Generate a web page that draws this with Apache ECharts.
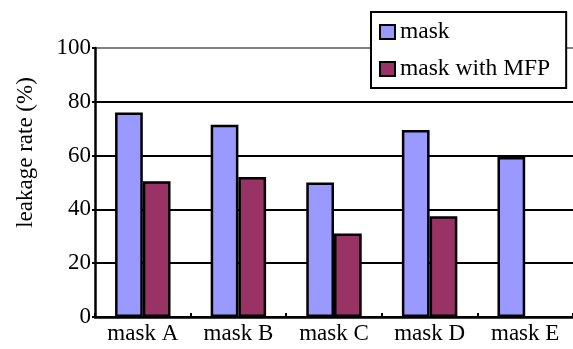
<!DOCTYPE html>
<html>
<head>
<meta charset="utf-8">
<script src="https://cdn.jsdelivr.net/npm/echarts@6/dist/echarts.min.js"></script>
<style>
  html, body { margin: 0; padding: 0; background: #fff; }
  #main { width: 573px; height: 349px; }
</style>
</head>
<body>
<div id="main"></div>
<script>
const categories = ['mask A', 'mask B', 'mask C', 'mask D', 'mask E'];
const maskValues = [76, 71.5, 50, 69.5, 59.5];
const mfpValues = [50.5, 52, 31, 37.5, null];
const seriesNames = ['mask', 'mask with MFP'];

const chart = echarts.init(document.getElementById('main'));
const font = "'Liberation Serif', 'Times New Roman', serif";

var option = {
  backgroundColor: '#ffffff',
  animation: false,
  textStyle: { fontFamily: font },
  grid: { left: 95, top: 48, right: -2, bottom: 32 },
  legend: {
    orient: 'vertical',
    left: 371,
    top: 12,
    padding: [8, 16, 7, 8],
    itemWidth: 15,
    itemHeight: 14,
    itemGap: 13,
    backgroundColor: '#ffffff',
    borderColor: '#000',
    borderWidth: 2,
    textStyle: { fontFamily: font, fontSize: 23.5, color: '#000' },
    data: [
      { name: seriesNames[0], icon: 'rect' },
      { name: seriesNames[1], icon: 'rect' }
    ]
  },
  xAxis: {
    type: 'category',
    data: categories,
    axisLine: { lineStyle: { color: '#000', width: 2.5 } },
    axisTick: { show: true, inside: true, length: 4, lineStyle: { color: '#000', width: 2 } },
    axisLabel: { color: '#000', fontFamily: font, fontSize: 23, margin: 5 }
  },
  yAxis: {
    type: 'value',
    min: 0,
    max: 100,
    interval: 20,
    name: 'leakage rate (%)',
    nameLocation: 'middle',
    nameGap: 58,
    nameTextStyle: { color: '#000', fontFamily: font, fontSize: 23, padding: [0, 0, 0, 60] },
    axisLine: { show: true, lineStyle: { color: '#000', width: 2.5 } },
    axisTick: { show: true, length: 3, lineStyle: { color: '#000', width: 2 } },
    axisLabel: { color: '#000', fontFamily: font, fontSize: 23, margin: 4 },
    splitLine: {
      show: true,
      lineStyle: { color: ['#000', '#000', '#000', '#000', '#000', '#808080'], width: 2 }
    }
  },
  series: [
    {
      name: seriesNames[0],
      type: 'bar',
      data: maskValues,
      barGap: '0%',
      barCategoryGap: '42%',
      itemStyle: { color: '#9999ff', borderColor: '#000', borderWidth: 2.5 }
    },
    {
      name: seriesNames[1],
      type: 'bar',
      data: mfpValues,
      itemStyle: { color: '#993366', borderColor: '#000', borderWidth: 2.5 }
    }
  ]
};

chart.setOption(option);
</script>
</body>
</html>
